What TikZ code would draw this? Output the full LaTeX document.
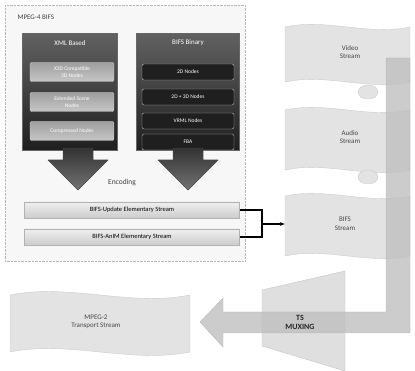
\documentclass[tikz,border=0pt]{standalone}
\usepackage{fontspec}
\setmainfont{Carlito}
\usetikzlibrary{arrows.meta,calc}

% wavy banner: x1, y-top, x2, y-bottom, wave amplitude
\newcommand\wavebanner[5]{%
  \pgfmathsetmacro\wbA{#1+(#3-#1)/3}%
  \pgfmathsetmacro\wbB{#1+2*(#3-#1)/3}%
  \filldraw[streamshape] (#1,#2) .. controls ({\wbA},{#2-#5}) and ({\wbB},{#2+#5}) .. (#3,#2)
     -- (#3,#4) .. controls ({\wbB},{#4+#5}) and ({\wbA},{#4-#5}) .. (#1,#4) -- cycle;}

\tikzset{
  panel/.style={draw=gray!55, densely dotted, fill=gray!6},
  darkbox/.style={draw=black!60, top color=black!62, bottom color=black!88, minimum width=95pt, minimum height=117pt},
  boxtitle/.style={text=white, font=\fontsize{7}{8}\selectfont},
  litem/.style={rounded corners=2pt, draw=gray!35, top color=gray!75, bottom color=gray!45, text=white,
    minimum width=84pt, minimum height=19pt, align=center, font=\fontsize{5.5}{6.5}\selectfont},
  ritem/.style={rounded corners=2pt, draw=gray!55, fill=black!88, text=white,
    minimum width=92pt, minimum height=16pt, font=\fontsize{5.5}{6.5}\selectfont},
  downarrow/.style={draw=black!70, top color=black!80, bottom color=black!55},
  esbar/.style={draw=gray!60, top color=gray!12, bottom color=gray!40, minimum width=215pt, minimum height=16pt,
    font=\fontsize{6.5}{7.5}\selectfont},
  streamshape/.style={fill=gray!22, draw=gray!40},
  streamlabel/.style={align=center, text=gray!55!black, font=\fontsize{7}{8.5}\selectfont},
  link/.style={draw=black, line width=1.1pt},
  flow/.style={fill=gray!50, draw=gray!60, opacity=0.8},
}

\begin{document}
\begin{tikzpicture}[x=1pt,y=-1pt]
\useasboundingbox (0,0) rectangle (415,371);

% ---------------- MPEG-4 BIFS panel ----------------
\filldraw[panel] (5,5) rectangle (245,261);
\node[anchor=west, font=\fontsize{7}{8}\selectfont, text=black!75] (title) at (14,17) {MPEG-4 BIFS};

\node[darkbox] (xmlbox) at (70,92) {};
\node[darkbox, minimum width=103pt] (binbox) at (188,92) {};
\node[boxtitle] (xmlt) at (70,43) {XML Based};
\node[boxtitle] (bint) at (188,43) {BIFS Binary};

\node[litem] (x1) at (72,72) {X3D Compatible\\3D Nodes};
\node[litem] (x2) at (72,102) {Extended Scene\\Nodes};
\node[litem] (x3) at (72,131) {Compressed Nodes};

\node[ritem] (b1) at (188,72) {2D Nodes};
\node[ritem] (b2) at (188,97) {2D + 3D Nodes};
\node[ritem] (b3) at (188,121) {VRML Nodes};
\node[ritem] (b4) at (188,142) {FBA};

% encoding arrows
\filldraw[downarrow] (63,148) -- (93,148) -- (93,160) -- (108,160) -- (78,190) -- (48,160) -- (63,160) -- cycle;
\filldraw[downarrow] (173,148) -- (203,148) -- (203,160) -- (218,160) -- (188,190) -- (158,160) -- (173,160) -- cycle;
\node[font=\fontsize{7.5}{9}\selectfont, text=black!75] (enc) at (122,183) {Encoding};

\node[esbar] (upd) at (132,210) {BIFS-Update Elementary Stream};
\node[esbar] (anim) at (132,237) {BIFS-AnIM Elementary Stream};

% ---------------- elementary streams ----------------
\wavebanner{285}{27}{410}{82}{9}
\wavebanner{285}{110}{410}{170}{9}
\wavebanner{285}{196}{410}{256}{9}
\node[streamlabel] (video) at (350,52) {Video\\Stream};
\node[streamlabel] (audio) at (350,137) {Audio\\Stream};
\node[streamlabel, minimum width=120pt] (bifs) at (345,224) {BIFS\\Stream};

% rolled banner ends
\filldraw[streamshape] (368,92) ellipse (10pt and 7pt);
\filldraw[streamshape] (368,177) ellipse (10pt and 7pt);

% ---------------- multiplexing ----------------
\filldraw[fill=gray!25, draw=gray!45] (262,290) -- (345,271) -- (345,371) -- (262,346) -- cycle;
\coordinate (muxc) at (300,322);

\filldraw[flow] (410,58) -- (410,333) -- (223,333) -- (223,347) -- (200,322) -- (223,298)
  -- (223,312) -- (386,312) -- (386,58) -- cycle;

\node[align=center, font=\bfseries\fontsize{8}{9}\selectfont, text=black!85] (mux) at (muxc) {TS\\MUXING};

\wavebanner{10}{295}{190}{352}{12}
\node[streamlabel] (ts) at (96,322) {MPEG-2\\Transport Stream};

% ---------------- stream bracket ----------------
\coordinate (join) at (262,224);
\draw[link] (upd.east) -| (join);
\draw[link] (anim.east) -| (join);
\draw[link, -{Stealth[length=5pt]}] (join) -- (bifs.west);
\end{tikzpicture}
\end{document}
